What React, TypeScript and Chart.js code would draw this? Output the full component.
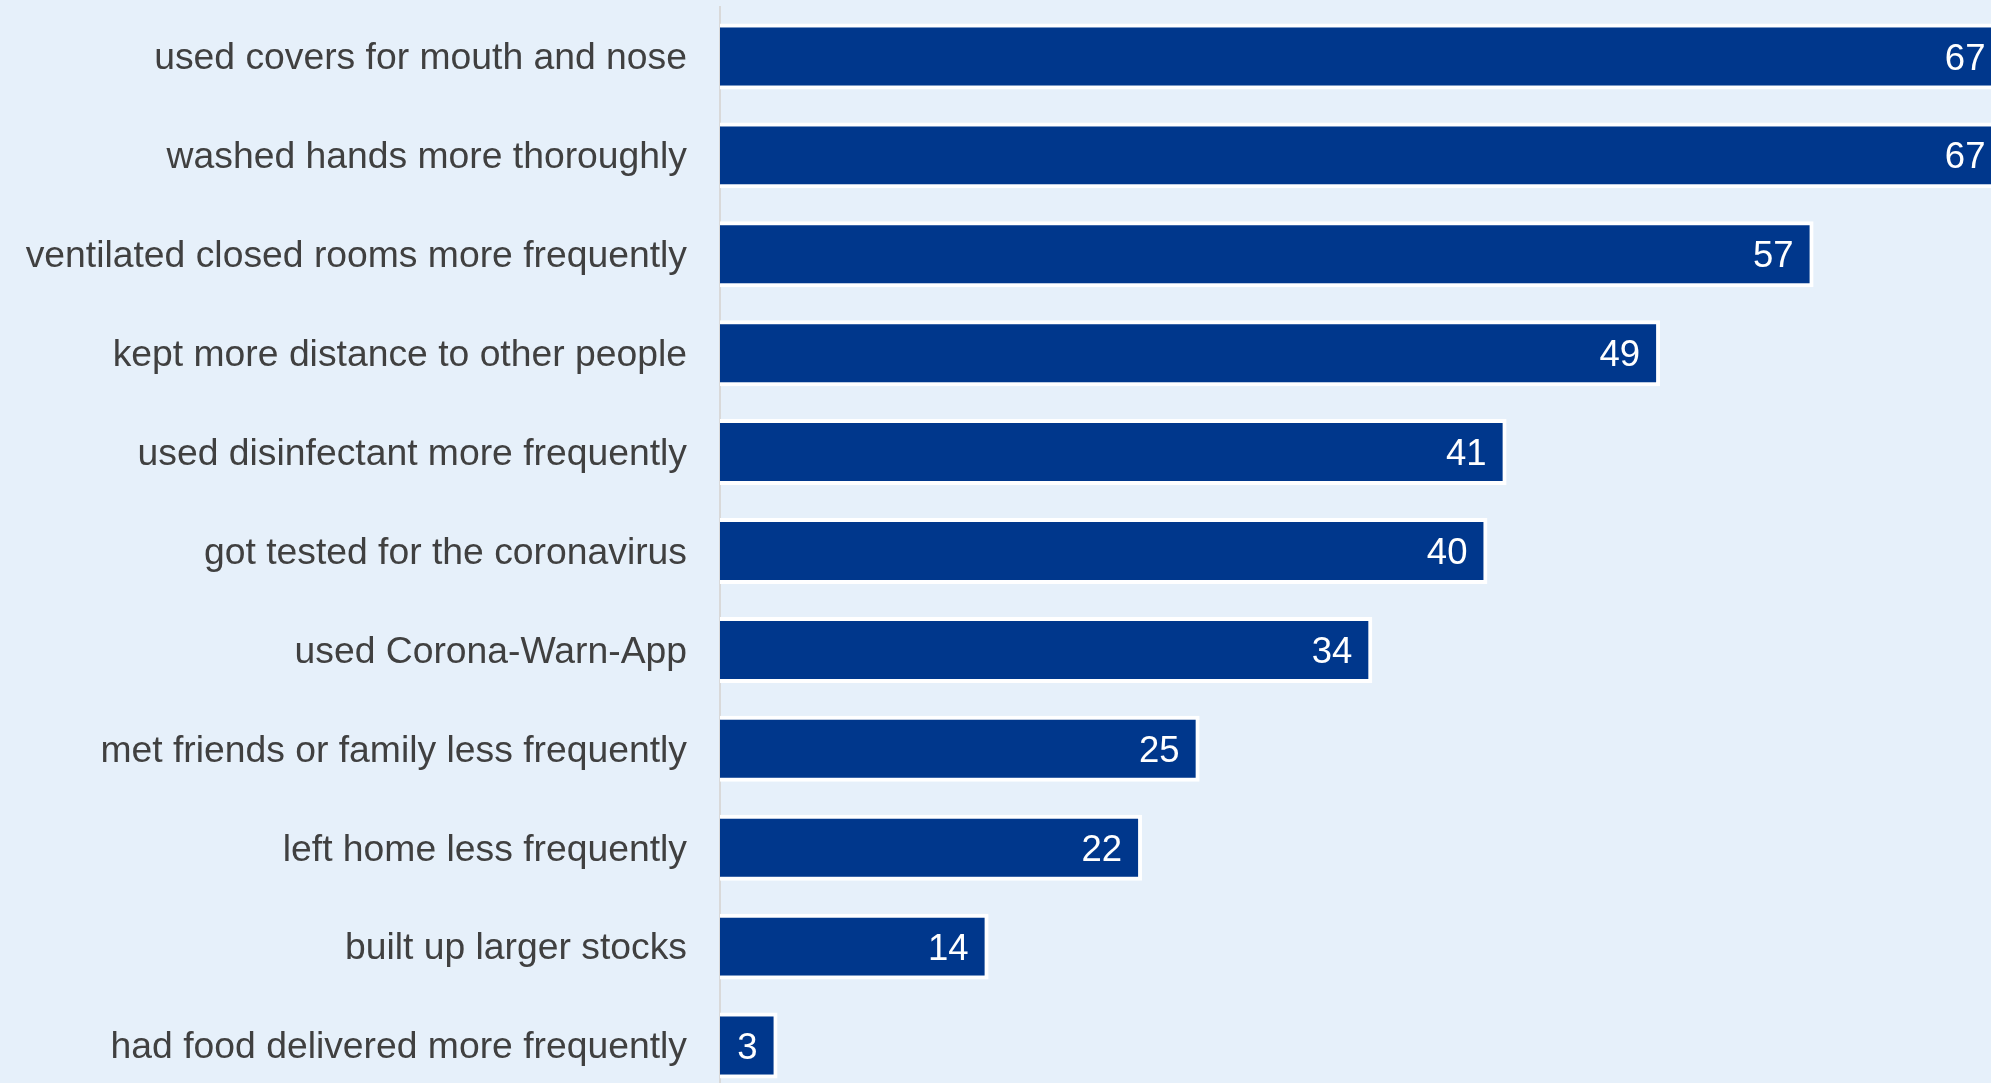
import React, { useEffect, useRef } from "react";
import { Chart, registerables } from "chart.js";

Chart.register(...registerables);

const categories = [
  "used covers for mouth and nose",
  "washed hands more thoroughly",
  "ventilated closed rooms more frequently",
  "kept more distance to other people",
  "used disinfectant more frequently",
  "got tested for the coronavirus",
  "used Corona-Warn-App",
  "met friends or family less frequently",
  "left home less frequently",
  "built up larger stocks",
  "had food delivered more frequently",
];

const values = [67, 67, 57, 49, 41, 40, 34, 25, 22, 14, 3];

const FONT = "'Liberation Sans', Arial, Helvetica, sans-serif";
const BG = "#E6F0FA";
const BAR = "#00378C";

const textLabels = {
  id: "textLabels",
  afterDatasetsDraw(chart: any) {
    const ctx = chart.ctx;
    const meta = chart.getDatasetMeta(0);
    const yScale = chart.scales.y;
    ctx.save();
    // category labels
    ctx.font = `37.3px ${FONT}`;
    ctx.fillStyle = "#404040";
    ctx.textAlign = "right";
    ctx.textBaseline = "middle";
    categories.forEach((c, i) => {
      ctx.fillText(c, yScale.right - 33, yScale.getPixelForTick(i) + 2.5);
    });
    // value labels
    ctx.font = `36.5px ${FONT}`;
    ctx.fillStyle = "#FFFFFF";
    meta.data.forEach((bar: any, i: number) => {
      ctx.fillText(String(values[i]), bar.x - 20, bar.y + 3);
    });
    ctx.restore();
  },
};

export default function App() {
  const ref = useRef<HTMLCanvasElement>(null);

  useEffect(() => {
    if (!ref.current) return;
    const chart = new Chart(ref.current, {
      type: "bar",
      data: {
        labels: categories,
        datasets: [
          {
            data: values,
            backgroundColor: BAR,
            borderColor: "#FFFFFF",
            borderWidth: 4,
            borderSkipped: "start",
            categoryPercentage: 1,
            barPercentage: 0.667,
          },
        ],
      },
      options: {
        indexAxis: "y",
        animation: false,
        responsive: false,
        devicePixelRatio: 1,
        layout: { padding: { top: 7, left: 0, right: 0, bottom: 0 } },
        plugins: {
          legend: { display: false },
          tooltip: { enabled: false },
        },
        scales: {
          x: {
            display: false,
            min: 0,
            max: 70,
          },
          y: {
            afterFit: (scale: any) => {
              scale.width = 720;
              scale.paddingTop = 0;
              scale.paddingBottom = 0;
            },
            grid: { color: "transparent", drawTicks: false },
            border: { display: true, color: "#D9D9D9", width: 2 },
            ticks: { display: false },
          },
        },
      },
      plugins: [textLabels],
    });
    return () => chart.destroy();
  }, []);

  return (
    <div
      style={{
        position: "fixed",
        top: 0,
        left: 0,
        width: 1991,
        height: 1083,
        overflow: "hidden",
        background: BG,
      }}
    >
      <canvas
        ref={ref}
        width={2063}
        height={1095}
        style={{ width: 2063, height: 1095, display: "block" }}
      />
    </div>
  );
}
